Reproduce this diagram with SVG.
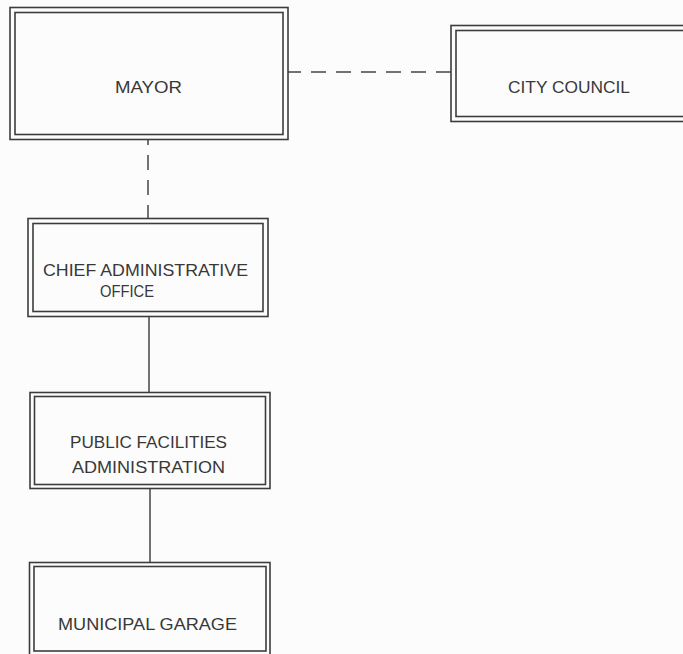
<svg xmlns="http://www.w3.org/2000/svg" width="683" height="654" viewBox="0 0 683 654">
<style>
.b{fill:none;stroke:#3c3c3c;stroke-width:1.6}
.t{font-family:"Liberation Sans",Arial,sans-serif;font-size:17px;fill:#383838}
.c{stroke:#444;stroke-width:1.5;fill:none}
.d{stroke-dasharray:15 10}
</style>
<rect width="683" height="654" fill="#fcfcfc"/>
<g id="connectors">
<line class="c d" x1="451" y1="72" x2="288" y2="72"/>
<line class="c d" x1="148" y1="140" x2="148" y2="218" stroke-dashoffset="10"/>
<line class="c" x1="149" y1="317" x2="149" y2="392"/>
<line class="c" x1="150" y1="489" x2="150" y2="562"/>
</g>
<g id="mayor">
<rect class="b" x="10" y="7.5" width="278" height="132"/>
<rect class="b" x="15" y="12.5" width="268" height="122"/>
<text class="t" x="115" y="93" textLength="67" lengthAdjust="spacingAndGlyphs">MAYOR</text>
</g>
<g id="city-council">
<rect class="b" x="451" y="25.5" width="250" height="96"/>
<rect class="b" x="456" y="30.5" width="240" height="86"/>
<text class="t" x="508" y="93" textLength="122" lengthAdjust="spacingAndGlyphs">CITY COUNCIL</text>
</g>
<g id="chief-administrative-office">
<rect class="b" x="28" y="218.5" width="240" height="98"/>
<rect class="b" x="33" y="223.5" width="230" height="88"/>
<text class="t" x="43" y="276" textLength="205" lengthAdjust="spacingAndGlyphs">CHIEF ADMINISTRATIVE</text>
<text class="t" x="100" y="297" textLength="54" lengthAdjust="spacingAndGlyphs">OFFICE</text>
</g>
<g id="public-facilities-administration">
<rect class="b" x="30" y="392.5" width="240" height="96"/>
<rect class="b" x="34.5" y="396.5" width="231" height="88"/>
<text class="t" x="70" y="448" textLength="157" lengthAdjust="spacingAndGlyphs">PUBLIC FACILITIES</text>
<text class="t" x="72" y="473" textLength="153" lengthAdjust="spacingAndGlyphs">ADMINISTRATION</text>
</g>
<g id="municipal-garage">
<rect class="b" x="29.5" y="562.5" width="240.5" height="94"/>
<rect class="b" x="34" y="566.5" width="232" height="84.5"/>
<text class="t" x="58" y="630" textLength="179" lengthAdjust="spacingAndGlyphs">MUNICIPAL GARAGE</text>
</g>
</svg>
